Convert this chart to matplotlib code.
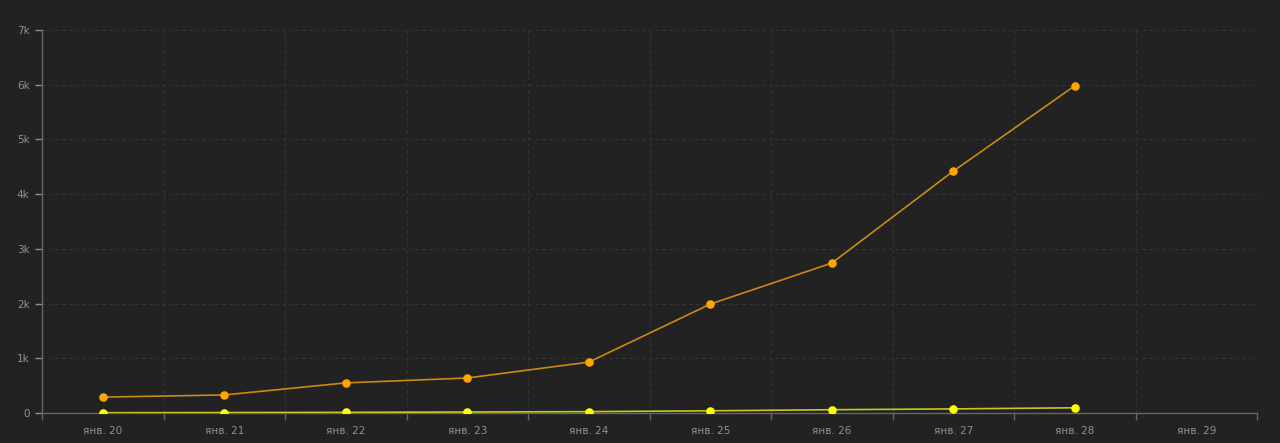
import matplotlib
matplotlib.use("Agg")
import matplotlib.pyplot as plt
from matplotlib.ticker import FixedLocator, FuncFormatter

# categories (days) and two series
days = ["янв. 20", "янв. 21", "янв. 22", "янв. 23", "янв. 24",
        "янв. 25", "янв. 26", "янв. 27", "янв. 28", "янв. 29"]
orange_vals = [290, 330, 550, 640, 930, 1990, 2740, 4420, 5980]
yellow_vals = [5, 8, 12, 18, 25, 40, 60, 75, 95]

bg = "#222222"
fig = plt.figure(figsize=(12.8, 4.43), dpi=100, facecolor=bg)
ax = fig.add_axes([42 / 1280, 30 / 443, (1257 - 42) / 1280, (413 - 30) / 443])
ax.set_facecolor(bg)

x_o = list(range(len(orange_vals)))
x_y = list(range(len(yellow_vals)))

ax.plot(x_o, orange_vals, color="#c98a12", lw=1.2, zorder=3)
ax.scatter(x_o, orange_vals, s=38, color="#ffa500", zorder=4, linewidths=0)
ax.plot(x_y, yellow_vals, color="#c8c81e", lw=1.2, zorder=3)
ax.scatter(x_y, yellow_vals, s=38, color="#ffff00", zorder=4, linewidths=0)

ax.set_xlim(-0.5, len(days) - 0.5)
ax.set_ylim(0, 7000)

# labels at band centres, ticks/grid at band edges
ax.set_xticks(range(len(days)))
ax.set_xticklabels(days)
ax.xaxis.set_minor_locator(FixedLocator([i - 0.5 for i in range(len(days) + 1)]))
ax.tick_params(axis="x", which="major", length=0, pad=9)
ax.tick_params(axis="x", which="minor", length=5, color="#666666", width=1)
ax.set_yticks(range(0, 7001, 1000))
ax.yaxis.set_major_formatter(FuncFormatter(lambda v, p: "0" if v == 0 else f"{int(v / 1000)}k"))
ax.tick_params(axis="y", length=5, color="#666666", width=1, pad=4)
ax.tick_params(colors="#909090", labelsize=7.5)

ax.grid(True, which="minor", axis="x", color="#353535", linestyle=(0, (3, 3)), lw=0.8)
ax.grid(True, which="major", axis="y", color="#353535", linestyle=(0, (3, 3)), lw=0.8)
ax.grid(False, which="major", axis="x")

for s in ["top", "right"]:
    ax.spines[s].set_visible(False)
for s in ["left", "bottom"]:
    ax.spines[s].set_color("#666666")
    ax.spines[s].set_linewidth(1)

fig.savefig("out.png", dpi=100, facecolor=bg)
